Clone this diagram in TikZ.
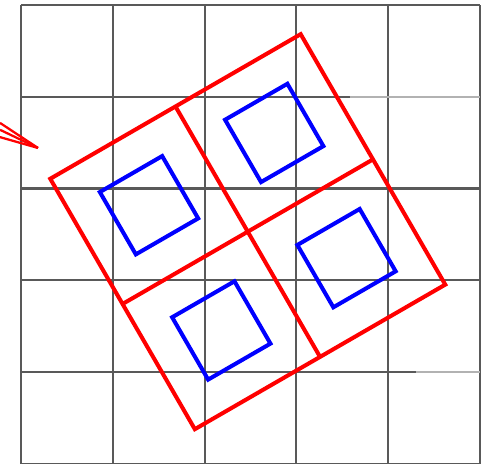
\documentclass[tikz,border=0pt]{standalone}
\usepackage{tikz}

\tikzset{
  gridline/.style={black!65, line width=0.65pt},
  gridfaint/.style={black!30, line width=0.65pt},
  bigsq/.style={red, line width=1.25pt},
  smallsq/.style={blue, line width=1.25pt}
}

\begin{document}
\begin{tikzpicture}
  \useasboundingbox (-0.229,0) rectangle (5.087,5.054);
  % grid
  \foreach \i in {0,...,5} {
    \draw[gridline] (\i,0) -- (\i,5);
  }
  \foreach \j in {0,2,3,5} {
    \draw[gridline] (0,\j) -- (5,\j);
  }
  \draw[gridline] (0,4) -- (3.58,4);
  \draw[gridfaint] (3.58,4) -- (5,4);
  \draw[gridline] (0,1) -- (4.3,1);
  \draw[gridfaint] (4.3,1) -- (5,1);
  % stray red tip on the left
  \coordinate (tip) at (0.185,3.442);
  \foreach \y in {3.715,3.64,3.56} {
    \draw[red, line width=0.7pt] (-0.229,\y) -- (tip);
  }
  % rotated square, its quarters and the inner squares
  \begin{scope}[shift={(2.47,2.53)}, rotate=30]
    \draw[bigsq, line join=miter] (-1.575,-1.575) rectangle (1.575,1.575);
    \draw[bigsq] (-1.575,0) -- (1.575,0);
    \draw[bigsq] (0,-1.575) -- (0,1.575);
    \foreach \cx in {-0.7875,0.7875} {
      \foreach \cy in {-0.7875,0.7875} {
        \draw[smallsq] ({\cx-0.392},{\cy-0.392}) rectangle ({\cx+0.392},{\cy+0.392});
      }
    }
  \end{scope}
\end{tikzpicture}
\end{document}
